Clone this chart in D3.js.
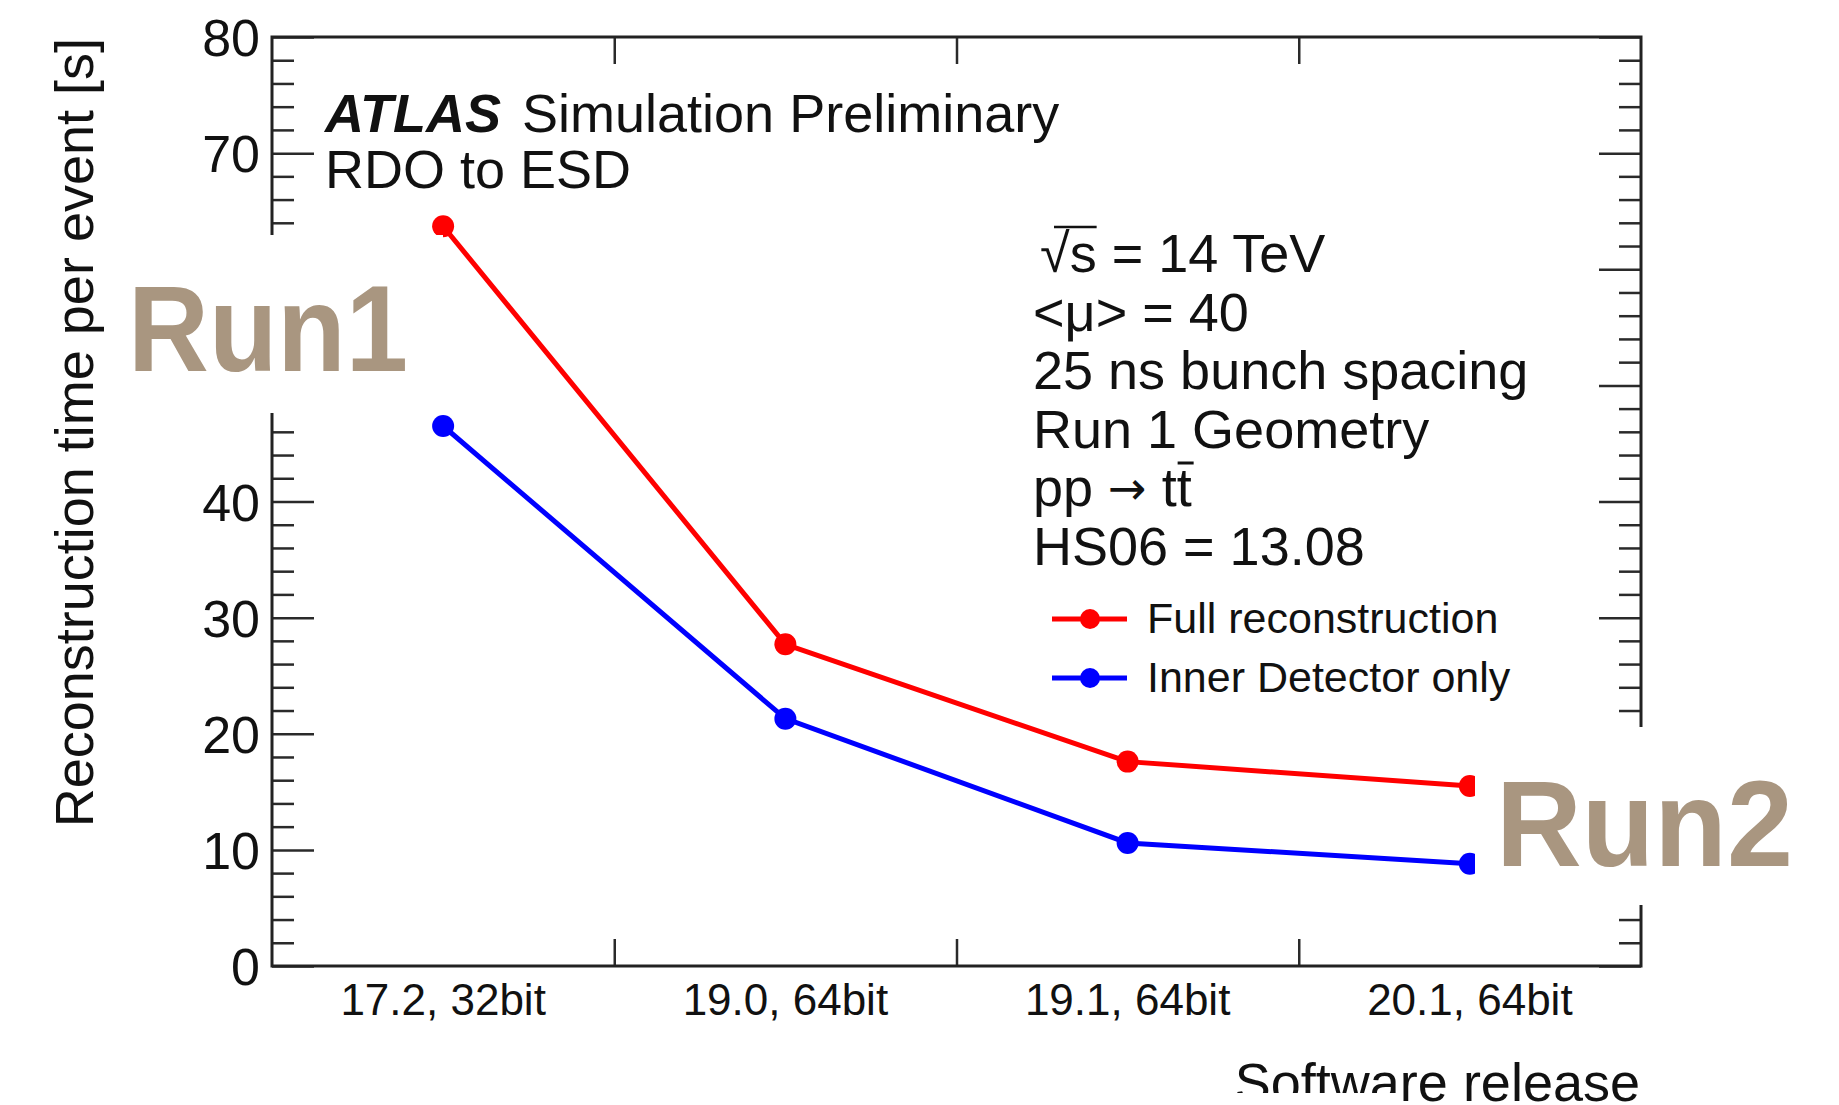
<!DOCTYPE html>
<html>
<head>
<meta charset="utf-8">
<script src="https://cdn.jsdelivr.net/npm/d3@7"></script>
<style>
  html, body { margin: 0; padding: 0; background: #fff; }
  svg { display: block; font-family: "Liberation Sans", Arial, Helvetica, sans-serif; }
</style>
</head>
<body>
<svg id="chart" width="1839" height="1105"></svg>
<script>
// ---- data ----
const categories = ["17.2, 32bit", "19.0, 64bit", "19.1, 64bit", "20.1, 64bit"];
const fullReco = [63.7, 27.7, 17.6, 15.5];
const innerDet = [46.5, 21.3, 10.6, 8.8];
const yMajorTicks = [0, 10, 20, 30, 40, 50, 60, 70, 80];
const yHiddenLabels = [50, 60]; // covered by the "Run1" overlay in the original
const yMinorTicks = d3.range(0, 81, 2).filter(v => v % 10 !== 0);
const seriesNames = ["Full reconstruction", "Inner Detector only"];
const seriesColors = ["#ff0000", "#0000ff"];
const infoLines = ["√s = 14 TeV", "<μ> = 40", "25 ns bunch spacing", "Run 1 Geometry", "pp → tt̄", "HS06 = 13.08"];

// ---- layout ----
const L = 272, R = 1641, T = 37, B = 966;
const svg = d3.select("#chart");
const FONT = '"Liberation Sans", Arial, Helvetica, sans-serif';

const x = d3.scaleBand().domain(categories).range([L, R]).padding(0);
const xEdge = d3.scaleLinear().domain([0, categories.length]).range([L, R]);
const y = d3.scaleLinear().domain([0, 80]).range([B, T]);

const tickColor = "#2a2a2a";

function styleTicks(g) {
  g.select(".domain").remove();
  g.selectAll(".tick line").attr("stroke", tickColor).attr("stroke-width", 2.5);
}

// left axis major
const gL = svg.append("g").attr("transform", `translate(${L},0)`)
  .call(d3.axisLeft(y).tickValues(yMajorTicks).tickSize(-42).tickPadding(12)
    .tickFormat(d => yHiddenLabels.includes(d) ? "" : d3.format("d")(d)));
styleTicks(gL);
gL.selectAll(".tick text").attr("font-size", 52).attr("fill", "#111").attr("font-family", FONT).attr("dy", "0.36em");
// left axis minor
svg.append("g").attr("transform", `translate(${L},0)`)
  .call(d3.axisLeft(y).tickValues(yMinorTicks).tickSize(-22).tickFormat("")).call(styleTicks);
// right axis
svg.append("g").attr("transform", `translate(${R},0)`)
  .call(d3.axisRight(y).tickValues(yMajorTicks).tickSize(-42).tickFormat("")).call(styleTicks);
svg.append("g").attr("transform", `translate(${R},0)`)
  .call(d3.axisRight(y).tickValues(yMinorTicks).tickSize(-22).tickFormat("")).call(styleTicks);
// bottom / top boundary ticks
svg.append("g").attr("transform", `translate(0,${B})`)
  .call(d3.axisBottom(xEdge).tickValues([1, 2, 3]).tickSize(-27).tickFormat("")).call(styleTicks);
svg.append("g").attr("transform", `translate(0,${T})`)
  .call(d3.axisTop(xEdge).tickValues([1, 2, 3]).tickSize(-27).tickFormat("")).call(styleTicks);

// bottom labels
const gBl = svg.append("g").attr("transform", `translate(0,${B})`)
  .call(d3.axisBottom(x).tickSize(0).tickPadding(0));
gBl.select(".domain").remove();
gBl.selectAll(".tick text").attr("font-size", 44).attr("fill", "#111").attr("font-family", FONT)
  .attr("dy", null).attr("y", 49);

// frame
svg.append("rect").attr("x", L).attr("y", T).attr("width", R - L).attr("height", B - T)
  .attr("fill", "none").attr("stroke", "#222").attr("stroke-width", 3);

// series
const series = [fullReco, innerDet];
const cx = (i) => x(categories[i]) + x.bandwidth() / 2;
const line = d3.line().x((d, i) => cx(i)).y(d => y(d));
series.forEach((vals, si) => {
  svg.append("path").datum(vals).attr("d", line).attr("fill", "none")
    .attr("stroke", seriesColors[si]).attr("stroke-width", 5);
  svg.append("g").selectAll("circle").data(vals).join("circle")
    .attr("cx", (d, i) => cx(i)).attr("cy", d => y(d)).attr("r", 11).attr("fill", seriesColors[si]);
});

// ATLAS label
svg.append("text").attr("x", 325).attr("y", 132).attr("font-size", 54)
  .attr("font-weight", "bold").attr("font-style", "italic").attr("fill", "#111").text("ATLAS");
svg.append("text").attr("x", 522).attr("y", 132).attr("font-size", 54).attr("fill", "#111")
  .text("Simulation Preliminary");
svg.append("text").attr("x", 325).attr("y", 188).attr("font-size", 54).attr("fill", "#111")
  .text("RDO to ESD");

// info block
const info = svg.append("g");
infoLines.forEach((s, i) => {
  const by = 272 + i * 58.5;
  const t = info.append("text").attr("x", 1033).attr("y", by).attr("font-size", 54).attr("fill", "#111");
  if (i === 0) {
    t.attr("x", 1040);
    t.append("tspan").attr("font-weight", 300).text("√");
    t.append("tspan").text("s = 14 TeV");
    const n = t.node();
    const x0 = n.getStartPositionOfChar(0).x + 14;
    const x1 = n.getEndPositionOfChar(1).x;
    info.append("line").attr("x1", x0).attr("x2", x1).attr("y1", by - 45).attr("y2", by - 45)
      .attr("stroke", "#111").attr("stroke-width", 2.5);
  } else if (i === 4) {
    t.append("tspan").text("pp ");
    t.append("tspan").attr("font-family", '"DejaVu Sans", sans-serif').attr("font-size", 46).attr("dy", -2).text("→");
    t.append("tspan").attr("dy", 2).text(" tt");
    const n = t.node();
    const k = n.getNumberOfChars() - 1;
    const x0 = n.getStartPositionOfChar(k).x;
    const x1 = n.getEndPositionOfChar(k).x;
    info.append("line").attr("x1", x0 + 1).attr("x2", x1 + 2).attr("y1", by - 43).attr("y2", by - 43)
      .attr("stroke", "#111").attr("stroke-width", 3);
  } else {
    t.text(s);
  }
});

// legend
seriesNames.forEach((name, i) => {
  const ly = 619 + i * 59;
  svg.append("line").attr("x1", 1052).attr("x2", 1127).attr("y1", ly).attr("y2", ly)
    .attr("stroke", seriesColors[i]).attr("stroke-width", 5);
  svg.append("circle").attr("cx", 1090).attr("cy", ly).attr("r", 10).attr("fill", seriesColors[i]);
  svg.append("text").attr("x", 1147).attr("y", ly + 14).attr("font-size", 43).attr("fill", "#111").text(name);
});

// axis titles
svg.append("text").attr("transform", "translate(93,38) rotate(-90)").attr("text-anchor", "end")
  .attr("font-size", 54).attr("fill", "#111").text("Reconstruction time per event [s]");
svg.append("text").attr("x", 1640).attr("y", 1101).attr("text-anchor", "end")
  .attr("font-size", 54).attr("fill", "#111").text("Software release");
svg.append("rect").attr("x", 1225).attr("y", 1093).attr("width", 175).attr("height", 12).attr("fill", "#fff");

// Run overlays
const runColor = "#a99680";
svg.append("rect").attr("x", 112).attr("y", 235).attr("width", 331).attr("height", 178).attr("fill", "#fff");
svg.append("text").attr("x", 128).attr("y", 371).attr("font-size", 122).attr("font-weight", "bold")
  .attr("fill", runColor).attr("textLength", 280).attr("lengthAdjust", "spacingAndGlyphs").text("Run1");
svg.append("rect").attr("x", 1475).attr("y", 727).attr("width", 364).attr("height", 178).attr("fill", "#fff");
svg.append("text").attr("x", 1496).attr("y", 866).attr("font-size", 122).attr("font-weight", "bold")
  .attr("fill", runColor).attr("textLength", 297).attr("lengthAdjust", "spacingAndGlyphs").text("Run2");
</script>
</body>
</html>
